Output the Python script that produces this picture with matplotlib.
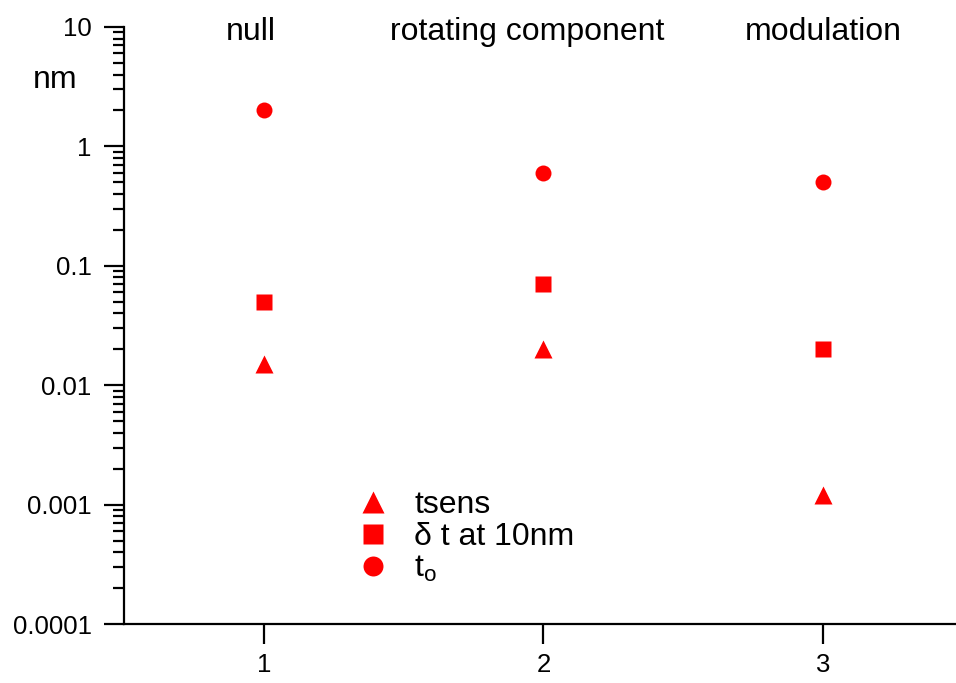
import matplotlib
matplotlib.use("Agg")
import matplotlib.pyplot as plt
from matplotlib.ticker import LogLocator, FixedLocator, NullFormatter

plt.rcParams["font.family"] = ["Liberation Sans", "DejaVu Sans"]
plt.rcParams["mathtext.default"] = "regular"

# data
positions = [1, 2, 3]
categories = ["null", "rotating component", "modulation"]
t_zero = [2.0, 0.6, 0.5]
delta_t = [0.05, 0.07, 0.02]
tsens = [0.015, 0.02, 0.0012]
y_ticks = [0.0001, 0.001, 0.01, 0.1, 1, 10]
y_tick_labels = ["0.0001", "0.001", "0.01", "0.1", "1", "10"]

W, H = 956, 683
fig = plt.figure(figsize=(W / 100, H / 100), dpi=100)
ax = fig.add_axes([124 / W, 59 / H, 1 - 124 / W, 597 / H])

red = "#ff0000"
ms = 11.5
ax.plot(positions, tsens, ls="none", marker="^", ms=ms + 0.8, mfc=red, mec="none", label="tsens")
ax.plot(positions, delta_t, ls="none", marker="s", ms=ms, mfc=red, mec="none", label="δ t at 10nm")
ax.plot(positions, t_zero, ls="none", marker="o", ms=ms, mfc=red, mec="none", label="t$_o$")

ax.set_yscale("log")
ax.set_ylim(0.0001, 10)
ax.set_xlim(0.5, 3.475)

ax.yaxis.set_major_locator(FixedLocator(y_ticks))
ax.set_yticklabels(y_tick_labels)
ax.yaxis.set_minor_locator(LogLocator(base=10, subs=range(2, 10), numticks=20))
ax.yaxis.set_minor_formatter(NullFormatter())
ax.set_xticks(positions)
ax.set_xticklabels([str(p) for p in positions])

for side in ("top", "right"):
    ax.spines[side].set_visible(False)
for side in ("left", "bottom"):
    ax.spines[side].set_linewidth(1.6)

ax.tick_params(axis="both", which="major", direction="out", length=14.4, width=1.6,
               labelsize=18.5)
ax.tick_params(axis="x", which="major", pad=6.5)
ax.tick_params(axis="y", which="major", pad=9)
ax.tick_params(axis="y", which="minor", direction="out", length=8, width=1.6)

big = 23
# category labels along the top
offsets = [-0.046, -0.057, 0.0]
for pos, name, off in zip(positions, categories, offsets):
    ax.text(pos + off, 1 - 13 / 597, name, transform=ax.get_xaxis_transform(),
            ha="center", va="baseline", fontsize=big, clip_on=False)

fig.text(55 / W, 1 - 88 / H, "nm", ha="center", va="baseline", fontsize=big)

ax.legend(loc="upper left", bbox_to_anchor=(357 / W, 1 - 490 / H),
          bbox_transform=fig.transFigure, frameon=False, fontsize=big,
          handlelength=1.0, handletextpad=0.8, borderpad=0, borderaxespad=0,
          labelspacing=0.06, markerscale=1.25)

fig.savefig("out.png", dpi=100)
